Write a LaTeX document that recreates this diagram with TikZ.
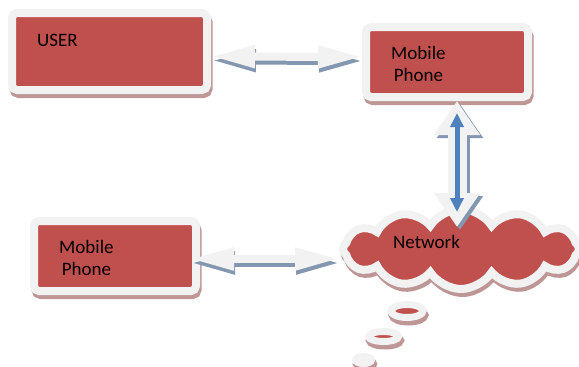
\documentclass[tikz,border=0pt]{standalone}
\usepackage{fontspec}
\setmainfont{Carlito}
\usetikzlibrary{arrows.meta, shapes.symbols}

\definecolor{boxred}{RGB}{192,80,77}
\definecolor{framec}{RGB}{242,242,242}
\definecolor{boxshade}{RGB}{190,150,150}
\definecolor{arrowshade}{RGB}{132,151,176}
\definecolor{arrowblue}{RGB}{79,129,189}

\begin{document}
\begin{tikzpicture}[x=1pt, y=-1pt,
    framed/.style={draw=framec, fill=boxred, line width=8pt,
      preaction={draw=boxshade, fill=boxshade, line width=8pt,
        transform canvas={shift={(1.5pt,-4pt)}}}},
    box/.style={framed, rectangle, rounded corners=5pt, inner sep=0pt,
      minimum width=162pt, minimum height=70pt},
    boxtext/.style={font=\fontsize{19}{22}\selectfont, align=center,
      inner sep=0pt, anchor=west},
    bubble/.style={framed, line width=7pt},
    dblarrow/.style={draw=framec, line width=8pt,
      {Triangle[length=44pt,width=21pt]}-{Triangle[length=44pt,width=21pt]},
      preaction={draw=arrowshade, line width=8pt,
        transform canvas={shift={(1pt,-4pt)}}}},
    vdblarrow/.style={draw=framec, line width=19pt,
      {Triangle[length=34pt,width=44pt]}-{Triangle[length=34pt,width=44pt]},
      preaction={draw=arrowshade, line width=19pt,
        transform canvas={shift={(3pt,-3pt)}}}},
    bluearrow/.style={draw=arrowblue, line width=5pt,
      {Triangle[length=14pt,width=13pt]}-{Triangle[length=14pt,width=13pt]}}]

    \useasboundingbox (0,0) rectangle (579,367);

    % Boxes
    \node [box, minimum width=195pt, minimum height=77pt] (user) at (109.5,51.5) {};
    \node [box] (phone) at (447,62) {};
    \node [box] (phone2) at (115,256) {};

    % Cloud and its bubbles
    \node [framed, cloud, cloud puffs=12, cloud puff arc=115, cloud ignores aspect,
      inner sep=0pt, minimum width=236pt, minimum height=80pt] (cloud) at (461,249) {};
    \draw [bubble] (407,311) ellipse [x radius=16, y radius=6.5];
    \draw [bubble] (383.5,336.5) ellipse [x radius=15, y radius=5];
    \draw [bubble] (363.5,360) ellipse [x radius=8, y radius=3.5];

    % Arrows
    \draw [dblarrow] ([yshift=-5pt]user.east) -- ([yshift=5pt]phone.west);
    \draw [dblarrow] ([xshift=-10pt,yshift=-3pt]phone2.east) -- ([yshift=-10pt]cloud.west);
    \draw [vdblarrow] ([xshift=10pt]phone.south) -- ([xshift=-4pt,yshift=-22pt]cloud.north);
    \draw [bluearrow] ([xshift=10pt,yshift=-12pt]phone.south) -- ([xshift=-4pt,yshift=-7pt]cloud.north);

    % Texts
    \node [boxtext] (usertxt) at (37,40.5) {USER};
    \node [boxtext] (phonetxt) at (391,64) {Mobile\\Phone};
    \node [boxtext] (phone2txt) at (59,258) {Mobile\\Phone};
    \node [boxtext] (cloudtxt) at (393,242) {Network};

\end{tikzpicture}
\end{document}
